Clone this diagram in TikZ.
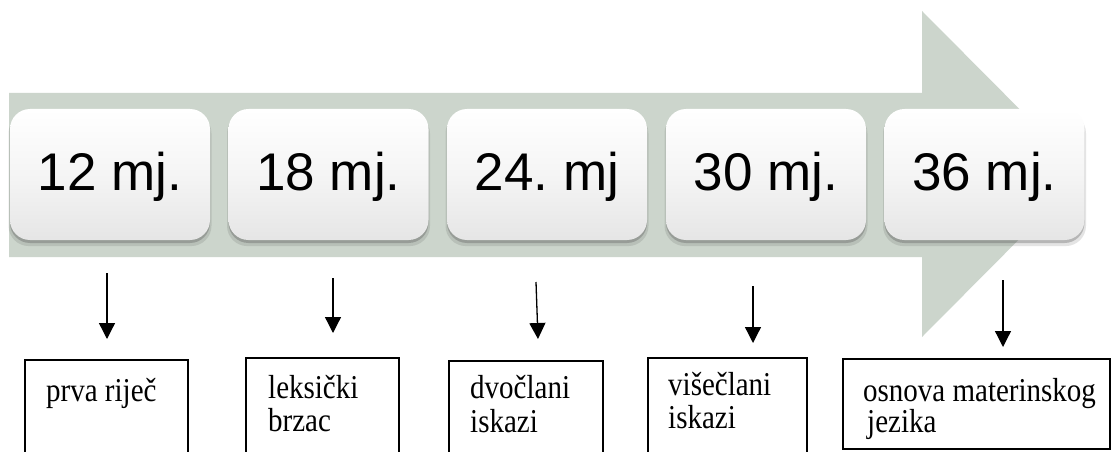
\documentclass[tikz,border=0pt]{standalone}
\usepackage{fontspec}
\usepackage{graphicx}
\setmainfont{Liberation Serif}
\newfontfamily\monthfont{Liberation Sans}
\usetikzlibrary{arrows.meta,shadows}
\definecolor{arrowgreen}{RGB}{204,213,204}
\newcommand{\tallstage}[1]{\smash{\scalebox{1}[1.15]{#1}}}
\tikzset{
  monthbox/.style={rounded corners=20pt, minimum width=200pt, minimum height=131pt,
    inner sep=0pt, outer sep=0pt, top color=white, bottom color=black!10, middle color=white!96!black,
    drop shadow={shadow xshift=0pt, shadow yshift=-5pt, shadow scale=1.015, opacity=0.15, fill=black!70},
    drop shadow={shadow xshift=0pt, shadow yshift=-3pt, opacity=0.3, fill=black!70},
    text=black},
  monthtext/.style={anchor=base, inner sep=0pt, font=\monthfont\fontsize{53}{60}\selectfont},
  stagebox/.style={draw=black, line width=1.2pt, inner sep=0pt, outer sep=0pt},
  stagetext/.style={anchor=base west, inner sep=0pt, font=\fontsize{29}{33}\selectfont},
  downarrow/.style={draw=black, line width=1.3pt, -{Triangle[width=16pt,length=16pt]}},
}
\begin{document}
\begin{tikzpicture}[x=1pt,y=-1pt]
\useasboundingbox (0,0) rectangle (1112,452);
\fill[white] (0,0) rectangle (1112,452);
% big arrow
\fill[arrowgreen] (9,93) -- (922,93) -- (922,11) -- (1084,174) -- (922,337) -- (922,257) -- (9,257) -- cycle;
% month boxes
\node[monthbox] (t1) at (110,174.5) {};
\node[monthbox] (t2) at (328.5,174.5) {};
\node[monthbox] (t3) at (547,174.5) {};
\node[monthbox] (t4) at (766,174.5) {};
\node[monthbox] (t5) at (984.5,174.5) {};
\node[monthtext] (m1) at (110,190) {12 mj.};
\node[monthtext] (m2) at (328.5,190) {18 mj.};
\node[monthtext] (m3) at (547,190) {24.\ mj};
\node[monthtext] (m4) at (766,190) {30 mj.};
\node[monthtext] (m5) at (984.5,190) {36 mj.};
% stage boxes
\node[stagebox, minimum width=163pt, minimum height=120pt] (b1) at (106.5,420) {};
\node[stagebox, minimum width=153pt, minimum height=122pt] (b2) at (322.5,419) {};
\node[stagebox, minimum width=154pt, minimum height=119pt] (b3) at (526,420.5) {};
\node[stagebox, minimum width=159pt, minimum height=122pt] (b4) at (727.5,419) {};
\node[stagebox, minimum width=267pt, minimum height=90pt] (b5) at (976.5,404) {};
% stage texts
\node[stagetext] (l1) at (46,401) {\tallstage{prva riječ}};
\node[stagetext] (l2a) at (268,398) {\tallstage{leksički}};
\node[stagetext] (l2b) at (268,431) {\tallstage{brzac}};
\node[stagetext] (l3a) at (470,398) {\tallstage{dvočlani}};
\node[stagetext] (l3b) at (470,432) {\tallstage{iskazi}};
\node[stagetext] (l4a) at (668,395) {\tallstage{višečlani}};
\node[stagetext] (l4b) at (668,428) {\tallstage{iskazi}};
\node[stagetext] (l5a) at (863,401.5) {\tallstage{osnova materinskog}};
\node[stagetext] (l5b) at (867,432) {\tallstage{jezika}};
% arrows
\coordinate (s1) at (107,273); \coordinate (e1) at (107,339);
\coordinate (s2) at (333,278); \coordinate (e2) at (333,333);
\coordinate (s3) at (536,282); \coordinate (e3) at (538,339);
\coordinate (s4) at (753,286); \coordinate (e4) at (753,343);
\coordinate (s5) at (1003,280); \coordinate (e5) at (1003,347);
\draw[downarrow] (s1) -- (e1);
\draw[downarrow] (s2) -- (e2);
\draw[downarrow] (s3) -- (e3);
\draw[downarrow] (s4) -- (e4);
\draw[downarrow] (s5) -- (e5);
\end{tikzpicture}
\end{document}
